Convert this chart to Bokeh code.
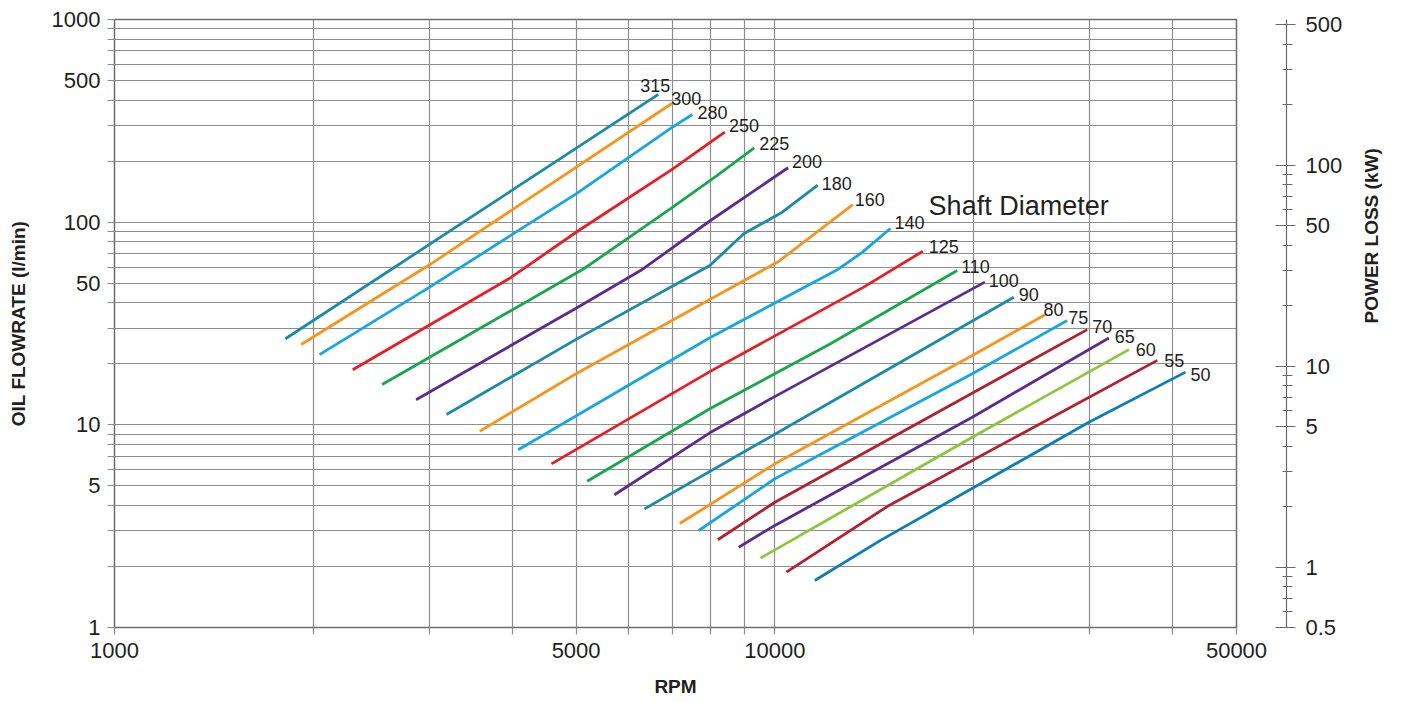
import math
from bokeh.plotting import figure
from bokeh.models import (LogAxis, Range1d, FixedTicker, CustomJSTickFormatter,
                          ColumnDataSource, Label)
from bokeh.core.properties import value
from bokeh.embed import file_html
from bokeh.resources import INLINE

# ---------------- data ----------------
diameters = ["315", "300", "280", "250", "225", "200", "180", "160", "140", "125",
             "110", "100", "90", "80", "75", "70", "65", "60", "55", "50"]

rpm_315 = [1815, 6660];                         flow_315 = [26.6, 427]
rpm_300 = [1917, 3000, 6990];                   flow_300 = [24.9, 61.6, 386]
rpm_280 = [2044, 3000, 5000, 6970, 7500];       flow_280 = [22.2, 47.8, 138, 292, 340]
rpm_250 = [2295, 3990, 5000, 6970, 8180, 8400]; flow_250 = [18.7, 53.5, 89.2, 181, 262, 278]
rpm_225 = [2543, 5136, 6970, 8180, 9305];       flow_225 = [15.8, 58.9, 117.2, 170, 232.8]
rpm_200 = [2862, 5000, 6260, 7990, 10470];      flow_200 = [13.3, 37.6, 57.7, 101.9, 185.5]
rpm_180 = [3182, 5000, 7970, 8970, 10260, 11610]; flow_180 = [11.25, 26.4, 61.1, 87.6, 112, 152.2]
rpm_160 = [3574, 5000, 7970, 10130, 13120];     flow_160 = [9.30, 17.86, 41.5, 64.0, 122.2]
rpm_140 = [4086, 7970, 12430, 13570, 14960];    flow_140 = [7.53, 26.9, 58.2, 71.1, 93.0]
rpm_125 = [4588, 7970, 13630, 16750];           flow_125 = [6.42, 18.3, 47.8, 71.9]
rpm_110 = [5197, 7970, 12140, 18880];           flow_110 = [5.27, 12.0, 25.1, 57.7]
rpm_100 = [5716, 7970, 9960, 20790];            flow_100 = [4.52, 9.13, 13.7, 50.6]
rpm_90 = [6346, 23000];                         flow_90 = [3.85, 42.6]
rpm_80 = [7178, 10000, 19900, 25690];           flow_80 = [3.26, 6.42, 22.0, 35.0]
rpm_75 = [7670, 10000, 19900, 27710];           flow_75 = [3.01, 5.42, 17.86, 32.7]
rpm_70 = [8194, 10000, 29710];                  flow_70 = [2.71, 4.15, 29.5]
rpm_65 = [8816, 10000, 19900, 32040];           flow_65 = [2.49, 3.19, 10.9, 26.8]
rpm_60 = [9510, 19900, 34350];                  flow_60 = [2.20, 8.69, 23.5]
rpm_55 = [10410, 14790, 37930];                 flow_55 = [1.875, 3.95, 20.8]
rpm_50 = [11490, 14450, 29880, 41860];          flow_50 = [1.706, 2.69, 10.3, 18.2]

x_major = [1000, 5000, 10000, 50000]
x_minor = [2000, 3000, 4000, 6000, 7000, 8000, 9000, 20000, 30000, 40000]
y_major = [1, 5, 10, 50, 100, 500, 1000]
y_minor = [2, 3, 4, 6, 7, 8, 9, 20, 30, 40, 60, 70, 80, 90, 200, 300, 400, 600, 700, 800, 900]
pl_major = [0.5, 1, 5, 10, 50, 100, 500]
pl_minor = [0.6, 0.7, 0.8, 0.9, 2, 3, 4, 6, 7, 8, 9, 20, 30, 40, 60, 70, 80, 90, 200, 300, 400]

# ---------------- styling ----------------
TEAL, ORANGE, LBLUE, RED = "#1B8BA7", "#F7941D", "#16A6E1", "#EC1C24"
GREEN, PURPLE, DRED, LGREEN, BLUE = "#17A84B", "#5B2C8F", "#B3202F", "#8CC63F", "#0D7DBB"
series = [
    (rpm_315, flow_315, TEAL), (rpm_300, flow_300, ORANGE), (rpm_280, flow_280, LBLUE),
    (rpm_250, flow_250, RED), (rpm_225, flow_225, GREEN), (rpm_200, flow_200, PURPLE),
    (rpm_180, flow_180, TEAL), (rpm_160, flow_160, ORANGE), (rpm_140, flow_140, LBLUE),
    (rpm_125, flow_125, RED), (rpm_110, flow_110, GREEN), (rpm_100, flow_100, PURPLE),
    (rpm_90, flow_90, TEAL), (rpm_80, flow_80, ORANGE), (rpm_75, flow_75, LBLUE),
    (rpm_70, flow_70, DRED), (rpm_65, flow_65, PURPLE), (rpm_60, flow_60, LGREEN),
    (rpm_55, flow_55, DRED), (rpm_50, flow_50, BLUE),
]
label_dx = [-18, -1, 5, 4, 5, 4, 4, 2, 4, 6, 4, 4, 5, -2, 1, 5, 6, 7, 7, 5]
label_dy = [-9, -5, -2, -7, -4, -6, -2, -5, -6, -5, -4, -2, -3, -5, -3, -3, -2, 0, 0, 2]

FONT = "Liberation Sans"
TXT = "#231F20"
GRID = "#8E8E8E"

W, H = 1400, 702
FL, FT, FR, FB = 114, 19, 1236, 627

p = figure(width=W, height=H, x_axis_type="log", y_axis_type="log",
           x_range=Range1d(1000, 50000), y_range=Range1d(1, 1000),
           output_backend="svg", toolbar_location=None, title=None,
           min_border_left=FL, min_border_top=FT, min_border_right=W - FR,
           min_border_bottom=H - FB,
           x_axis_label="RPM", y_axis_label="OIL FLOWRATE (l/min)")
p.outline_line_color = "#6B6B6B"
p.outline_line_width = 1.5
p.background_fill_color = "white"
p.border_fill_color = "white"

fmt = CustomJSTickFormatter(code="return tick.toString();")

xt = FixedTicker(ticks=x_major, minor_ticks=x_minor)
yt = FixedTicker(ticks=y_major, minor_ticks=y_minor)
p.xaxis.ticker = xt
p.yaxis.ticker = yt
p.xgrid.ticker = xt
p.ygrid.ticker = yt
for g in (p.xgrid, p.ygrid):
    g.grid_line_color = GRID
    g.grid_line_width = 1.2
    g.minor_grid_line_color = GRID
    g.minor_grid_line_width = 1.2

for ax in (p.xaxis, p.yaxis):
    ax.formatter = fmt
    ax.axis_line_color = None
    ax.major_tick_in = 0
    ax.major_tick_out = 7
    ax.minor_tick_in = 0
    ax.minor_tick_out = 7
    ax.major_tick_line_color = GRID
    ax.minor_tick_line_color = GRID
    ax.major_tick_line_width = 1.2
    ax.minor_tick_line_width = 1.2
    ax.major_label_text_font = FONT
    ax.major_label_text_font_size = "22px"
    ax.major_label_text_color = TXT
    ax.axis_label_text_font = FONT
    ax.axis_label_text_font_size = "19px"
    ax.axis_label_text_font_style = "bold"
    ax.axis_label_text_color = TXT
p.xaxis.major_label_standoff = 8
p.xaxis.axis_label_standoff = 15
p.yaxis.major_label_standoff = 7
p.yaxis.axis_label_standoff = 20

# right-hand power-loss scale
p.extra_y_ranges = {"pl": Range1d(0.5, 530)}
spacer = LogAxis(y_range_name="pl", ticker=FixedTicker(ticks=[1]),
                 axis_line_color=None, major_tick_in=0, major_tick_out=50,
                 major_tick_line_color=None, minor_tick_line_color=None,
                 minor_tick_in=0, minor_tick_out=0, major_label_standoff=0,
                 major_label_text_font_size="1px", major_label_text_color=None)
pa = LogAxis(y_range_name="pl",
             ticker=FixedTicker(ticks=pl_major, minor_ticks=pl_minor),
             formatter=fmt, axis_label="POWER LOSS (kW)",
             axis_line_color="#6B6B6B", axis_line_width=1.2,
             major_tick_in=11, major_tick_out=9, minor_tick_in=4, minor_tick_out=6,
             major_tick_line_color="#6B6B6B", minor_tick_line_color="#6B6B6B",
             major_tick_line_width=1.2, minor_tick_line_width=1.2,
             major_label_standoff=10, major_label_text_font=FONT,
             major_label_text_font_size="22px", major_label_text_color=TXT,
             axis_label_text_font=FONT, axis_label_text_font_size="19px",
             axis_label_text_font_style="bold", axis_label_text_color=TXT,
             axis_label_standoff=26, axis_label_orientation=math.pi / 2)
p.add_layout(spacer, "right")
p.add_layout(pa, "right")

# curves
for xs, ys, c in series:
    p.line(xs, ys, line_color=c, line_width=2.8)

# curve labels at each curve's end
lab = ColumnDataSource(dict(
    x=[s[0][-1] for s in series], y=[s[1][-1] for s in series],
    t=diameters, dx=label_dx, dy=label_dy))
p.text(x="x", y="y", text="t", x_offset="dx", y_offset="dy", source=lab,
       text_font=value(FONT), text_font_size="18px", text_color=TXT,
       text_align="left", text_baseline="alphabetic")

p.add_layout(Label(x=17090, y=120.8, text="Shaft Diameter", text_font=FONT,
                   text_font_size="27px", text_color=TXT,
                   text_baseline="alphabetic", text_align="left"))

open("out.html", "w").write(file_html(p, INLINE))
